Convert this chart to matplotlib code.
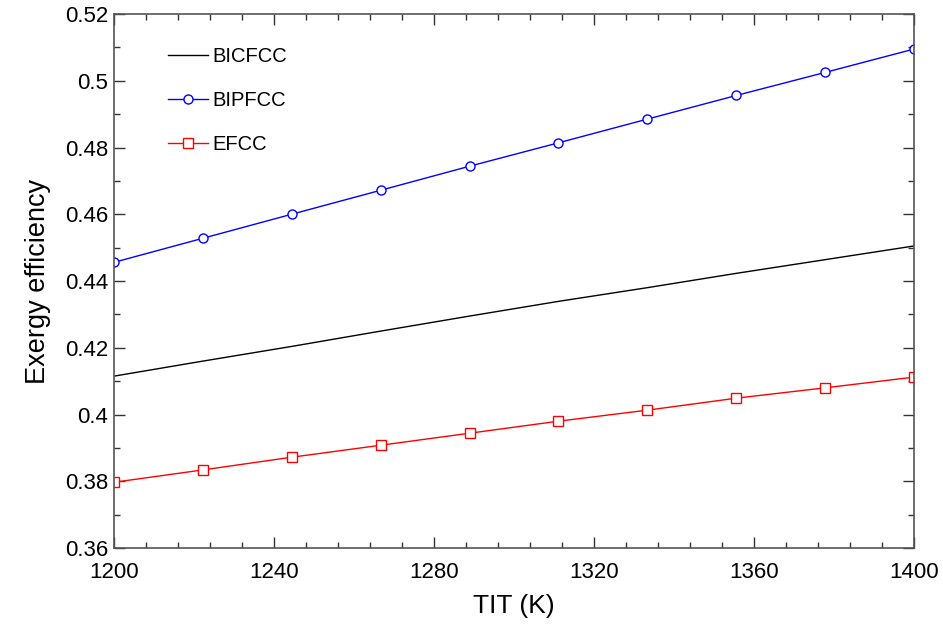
import numpy as np
import matplotlib
matplotlib.use('Agg')
import matplotlib.pyplot as plt
from matplotlib.ticker import MultipleLocator, FuncFormatter

plt.rcParams['font.family'] = ['Liberation Sans', 'DejaVu Sans']

# TIT values (K), 10 points from 1200 to 1400
tit = [1200, 1222.2, 1244.4, 1266.7, 1288.9, 1311.1, 1333.3, 1355.6, 1377.8, 1400]

bicfcc = [0.4115, 0.4160, 0.4204, 0.4250, 0.4295, 0.4339, 0.4380, 0.4423, 0.4464, 0.4505]
bipfcc = [0.4456, 0.4528, 0.4600, 0.4672, 0.4744, 0.4814, 0.4885, 0.4956, 0.5025, 0.5095]
efcc = [0.3797, 0.3834, 0.3872, 0.3908, 0.3944, 0.3980, 0.4013, 0.4049, 0.4080, 0.4112]

fig = plt.figure(figsize=(9.43, 6.34), dpi=100)
ax = fig.add_axes([0.1209, 0.1356, 0.8483, 0.8423])

ax.plot(tit, bicfcc, color='black', lw=1.0, label='BICFCC')
ax.plot(tit, bipfcc, color='blue', lw=1.0, marker='o', ms=6.5,
        mfc='white', mec='blue', mew=1.0, label='BIPFCC')
ax.plot(tit, efcc, color='red', lw=1.0, marker='s', ms=6.5,
        mfc='white', mec='red', mew=1.0, label='EFCC')

ax.set_xlim(1200, 1400)
ax.set_ylim(0.36, 0.52)
ax.xaxis.set_major_locator(MultipleLocator(40))
ax.xaxis.set_minor_locator(MultipleLocator(8))
ax.yaxis.set_major_locator(MultipleLocator(0.02))
ax.yaxis.set_minor_locator(MultipleLocator(0.01))
ax.yaxis.set_major_formatter(FuncFormatter(lambda v, p: '%g' % round(v, 2)))

ax.tick_params(which='both', direction='in', top=True, right=True, color='#333333')
ax.tick_params(which='major', length=8, width=1, labelsize=16)
ax.tick_params(axis='x', which='major', pad=10)
ax.tick_params(axis='y', which='major', pad=4)
ax.tick_params(which='minor', length=4.5, width=1)
for s in ax.spines.values():
    s.set_color('#555555')
    s.set_linewidth(1.2)

ax.set_xlabel('TIT (K)', fontsize=19, labelpad=8)
ax.set_ylabel('Exergy efficiency', fontsize=19.5, labelpad=10)

ax.legend(loc='upper left', bbox_to_anchor=(0.045, 0.972), frameon=False,
          fontsize=14.5, handlelength=2.0, handletextpad=0.2, labelspacing=1.25)

fig.savefig('out.png', dpi=100)
